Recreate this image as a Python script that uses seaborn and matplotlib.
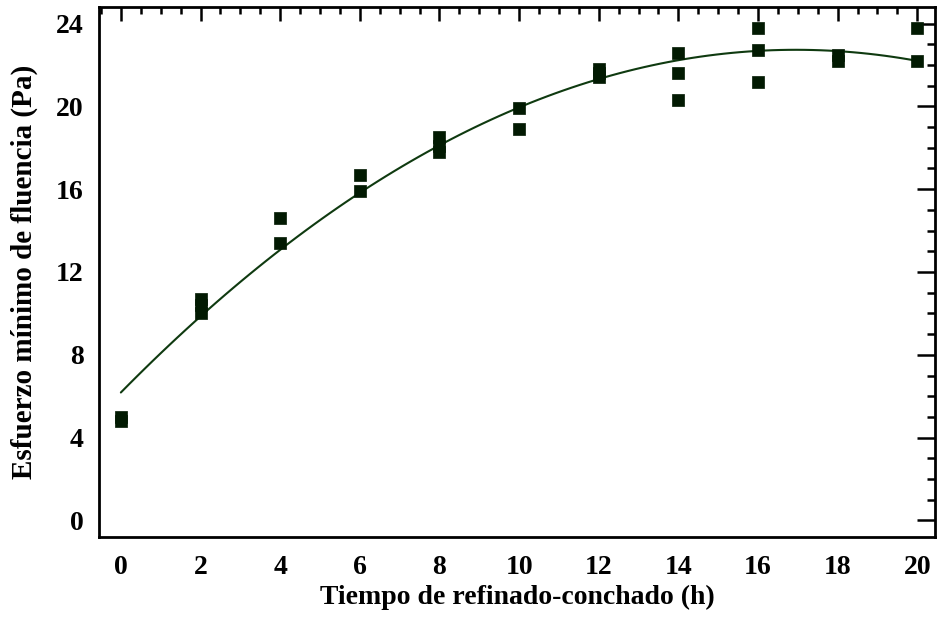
import numpy as np
import pandas as pd
import matplotlib
matplotlib.use("Agg")
import matplotlib.pyplot as plt
import seaborn as sns
from matplotlib.ticker import MultipleLocator

# Data
tiempo_h = [0, 0, 2, 2, 2, 4, 4, 6, 6, 8, 8, 8, 10, 10, 12, 12, 12,
            14, 14, 14, 16, 16, 16, 18, 18, 20, 20]
esfuerzo_pa = [4.8, 5.0, 10.0, 10.4, 10.7, 13.4, 14.6, 15.9, 16.7, 17.8, 18.1, 18.5,
               18.9, 19.9, 21.4, 21.6, 21.8, 20.3, 21.6, 22.6, 21.2, 22.7, 23.8,
               22.2, 22.5, 22.2, 23.8]
x_ticks = [0, 2, 4, 6, 8, 10, 12, 14, 16, 18, 20]
y_ticks = [0, 4, 8, 12, 16, 20, 24]

df = pd.DataFrame({"t": tiempo_h, "y": esfuerzo_pa})

sns.set_theme(style="white")
plt.rcParams["font.family"] = ["Liberation Serif", "DejaVu Serif"]
plt.rcParams["font.weight"] = "bold"
plt.rcParams["text.color"] = "black"
plt.rcParams["axes.labelcolor"] = "black"
plt.rcParams["xtick.color"] = "black"
plt.rcParams["ytick.color"] = "black"

fig = plt.figure(figsize=(9.38, 6.21), dpi=100)
ax = fig.add_axes([0.1055, 0.1353, 0.8915, 0.8534])

sns.regplot(data=df, x="t", y="y", order=2, ci=None, scatter=False,
            line_kws={"color": "#0f3a10", "lw": 1.5}, ax=ax, truncate=True)
sns.scatterplot(data=df, x="t", y="y", marker="s", s=66, color="#021a02",
                edgecolor="#021a02", linewidth=0.5, ax=ax, zorder=3)

ax.set_xlim(-0.55, 20.45)
ax.set_ylim(-0.8, 24.8)
ax.set_xticks(x_ticks)
ax.set_yticks(y_ticks)
ax.xaxis.set_minor_locator(MultipleLocator(0.5))
ax.yaxis.set_minor_locator(MultipleLocator(1))

for sp in ax.spines.values():
    sp.set_color("black")
    sp.set_linewidth(2.0)

ax.tick_params(which="both", direction="in", top=True, right=True,
               color="black", width=1.8, labelcolor="black")
ax.tick_params(which="major", length=10, labelsize=20)
ax.tick_params(which="minor", length=5)
ax.tick_params(axis="x", which="major", pad=13)
ax.tick_params(axis="y", which="major", length=13, pad=11)
ax.tick_params(axis="y", which="minor", length=6)

for lab in ax.get_xticklabels() + ax.get_yticklabels():
    lab.set_fontweight("bold")

ax.set_xlabel("Tiempo de refinado-conchado (h)", fontsize=20, fontweight="bold")
ax.set_ylabel("Esfuerzo mínimo de fluencia (Pa)", fontsize=21, fontweight="bold")
ax.xaxis.set_label_coords(0.5, -0.09)
ax.yaxis.set_label_coords(-0.073, 0.5)

fig.savefig("out.png", dpi=100)
